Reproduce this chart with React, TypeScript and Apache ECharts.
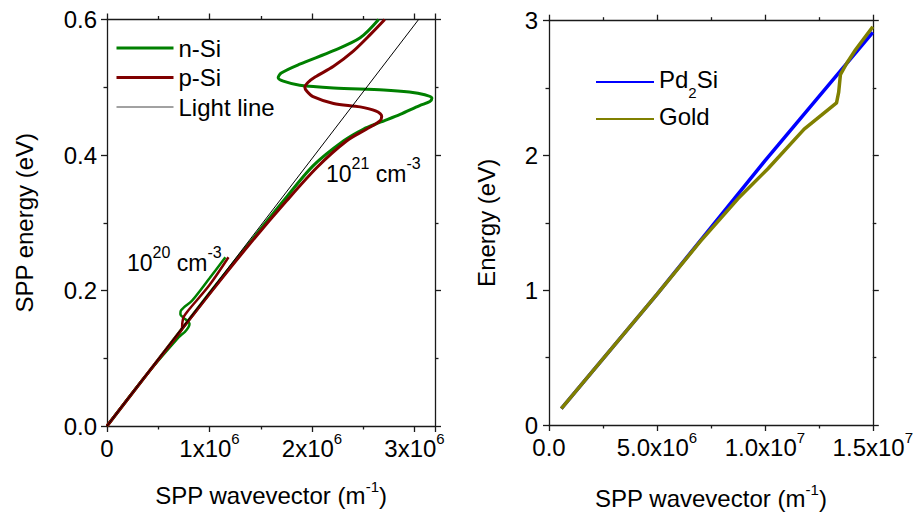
import React, { useEffect, useRef } from 'react';
import * as echarts from 'echarts';

const FONT = '"Liberation Sans", Arial, Helvetica, sans-serif';

// ---------- Left panel: SPP dispersion in doped Si ----------
// 10^20 cm^-3
const nSi20K = [0, 0.35e6, 0.70e6, 0.76e6, 0.795e6, 0.805e6, 0.785e6, 0.745e6, 0.716e6, 0.72e6, 0.75e6, 0.83e6, 1.0e6, 1.155e6];
const nSi20E = [0, 0.069, 0.131, 0.139, 0.146, 0.151, 0.155, 0.160, 0.165, 0.170, 0.175, 0.185, 0.218, 0.249];
const pSi20K = [0, 0.35e6, 0.70e6, 0.73e6, 0.735e6, 0.745e6, 0.77e6, 0.80e6, 1.0e6, 1.185e6];
const pSi20E = [0, 0.069, 0.136, 0.143, 0.152, 0.160, 0.166, 0.172, 0.208, 0.249];
// 10^21 cm^-3
const nSi21K = [0, 0.5e6, 1.0e6, 1.4e6, 1.72e6, 2.01e6, 2.31e6, 2.50e6, 2.66e6, 2.86e6, 3.05e6, 3.15e6, 3.17e6, 3.10e6, 2.95e6, 2.70e6, 2.21e6, 1.88e6, 1.72e6, 1.67e6, 1.70e6, 1.88e6, 2.21e6, 2.47e6, 2.65e6];
const nSi21E = [0, 0.098, 0.196, 0.272, 0.332, 0.384, 0.421, 0.438, 0.448, 0.460, 0.473, 0.479, 0.484, 0.489, 0.493, 0.496, 0.499, 0.503, 0.509, 0.514, 0.521, 0.534, 0.554, 0.573, 0.600];
const pSi21K = [0, 0.5e6, 1.0e6, 1.4e6, 1.75e6, 2.05e6, 2.34e6, 2.53e6, 2.66e6, 2.68e6, 2.62e6, 2.47e6, 2.21e6, 2.01e6, 1.95e6, 1.93e6, 1.96e6, 2.03e6, 2.21e6, 2.40e6, 2.57e6, 2.71e6];
const pSi21E = [0, 0.098, 0.195, 0.270, 0.332, 0.382, 0.421, 0.438, 0.450, 0.457, 0.465, 0.471, 0.476, 0.486, 0.494, 0.500, 0.507, 0.515, 0.531, 0.553, 0.578, 0.600];
// light line
const lightK = [0, 3.04e6];
const lightE = [0, 0.6];

// ---------- Right panel ----------
const pd2SiK = [0.57e6, 5.0e6, 1.0e7, 1.5e7];
const pd2SiE = [0.122, 0.97, 1.96, 2.914];
const goldK = [0.57e6, 5.0e6, 7.0e6, 8.76e6, 10.13e6, 11.82e6, 13.32e6, 13.42e6, 13.5e6, 13.8e6, 14.2e6, 15.0e6];
const goldE = [0.122, 0.97, 1.36, 1.68, 1.90, 2.195, 2.39, 2.47, 2.60, 2.686, 2.784, 2.955];

// ticks
const leftXTicks = [0, 1e6, 2e6, 3e6];
const rightXTicks = [0, 5e6, 1e7, 1.5e7];

const zip = (k: number[], e: number[]) => k.map((v, i) => [v, e[i]]);

const AX = '#1a1a1a';
const FS = 24;
const richTick = {
  m: { fontSize: FS, lineHeight: 34, fontFamily: FONT, color: '#000' },
  s: { fontSize: 15, lineHeight: 14, verticalAlign: 'top', fontFamily: FONT, color: '#000' },
};
const richTitle = {
  m: { fontSize: FS, lineHeight: 32, fontFamily: FONT, color: '#000' },
  s: { fontSize: 15, lineHeight: 14, verticalAlign: 'top', fontFamily: FONT, color: '#000' },
};
const richNote = {
  m: { fontSize: 23, lineHeight: 36, fontFamily: FONT, color: '#000' },
  s: { fontSize: 16, lineHeight: 14, verticalAlign: 'top', fontFamily: FONT, color: '#000' },
};

function frameAxis(extra: any) {
  return {
    type: 'value',
    splitLine: { show: false },
    axisLine: { show: true, onZero: false, lineStyle: { color: AX, width: 1.3 } },
    axisTick: { show: true, inside: false, length: 6, lineStyle: { color: AX, width: 1.3 } },
    minorTick: { show: true, splitNumber: 2, length: 3.5, lineStyle: { color: AX, width: 1.3 } },
    ...extra,
  };
}

function sciLabel(v: number, digits: number) {
  if (v === 0) return digits === 0 ? '{m|0}' : '{m|0.0}';
  const ex = Math.floor(Math.log10(v) + 1e-9);
  const mant = v / Math.pow(10, ex);
  return `{m|${mant.toFixed(digits)}x10}{s|${ex}}`;
}

export default function App() {
  const ref = useRef<HTMLDivElement>(null);
  useEffect(() => {
    const chart = echarts.init(ref.current!, null, { renderer: 'svg' });
    const option: any = {
      animation: false,
      backgroundColor: '#fff',
      textStyle: { fontFamily: FONT },
      grid: [
        { left: 107, top: 19.5, width: 328, height: 406.5 },
        { left: 549, top: 20.7, width: 327, height: 407.6 },
      ],
      xAxis: [
        frameAxis({
          gridIndex: 0, position: 'bottom', min: 0, max: 3.2e6, interval: 1e6,
          axisLabel: {
            margin: 5,
            formatter: (v: number) => (leftXTicks.some((t) => Math.abs(t - v) < 1) ? sciLabel(v, 0) : ''),
            rich: richTick,
          },
          name: '{m|SPP wavevector (m}{s|-1}{m|)}',
          nameLocation: 'middle', nameGap: 53,
          nameTextStyle: { rich: richTitle },
        }),
        frameAxis({ gridIndex: 0, position: 'top', min: 0, max: 3.2e6, interval: 1e6, axisLabel: { show: false } }),
        frameAxis({
          gridIndex: 1, position: 'bottom', min: 0, max: 1.5e7, interval: 5e6,
          axisLabel: {
            margin: 5,
            formatter: (v: number) => (rightXTicks.some((t) => Math.abs(t - v) < 1) ? sciLabel(v, 1) : ''),
            rich: richTick,
          },
          name: '{m|SPP wavevector (m}{s|-1}{m|)}',
          nameLocation: 'middle', nameGap: 57,
          nameTextStyle: { rich: richTitle },
        }),
        frameAxis({ gridIndex: 1, position: 'top', min: 0, max: 1.5e7, interval: 5e6, axisLabel: { show: false } }),
      ],
      yAxis: [
        frameAxis({
          gridIndex: 0, position: 'left', min: 0, max: 0.6, interval: 0.2,
          axisLabel: { margin: 10, fontSize: FS, color: '#000', fontFamily: FONT, formatter: (v: number) => v.toFixed(1) },
          name: 'SPP energy (eV)', nameLocation: 'middle', nameGap: 70,
          nameTextStyle: { fontSize: FS, color: '#000', fontFamily: FONT, lineHeight: 26 },
        }),
        frameAxis({ gridIndex: 0, position: 'right', min: 0, max: 0.6, interval: 0.2, axisLabel: { show: false } }),
        frameAxis({
          gridIndex: 1, position: 'left', min: 0, max: 3, interval: 1,
          axisLabel: { margin: 11, fontSize: FS, color: '#000', fontFamily: FONT, formatter: (v: number) => String(v) },
          name: 'Energy (eV)', nameLocation: 'middle', nameGap: 50,
          nameTextStyle: { fontSize: FS, color: '#000', fontFamily: FONT, lineHeight: 26 },
        }),
        frameAxis({ gridIndex: 1, position: 'right', min: 0, max: 3, interval: 1, axisLabel: { show: false } }),
      ],
      legend: [
        {
          orient: 'vertical', left: 115, top: 35, padding: 0, itemGap: 3.5,
          itemWidth: 57, itemHeight: 14,
          itemStyle: { opacity: 0 },
          data: [
            { name: 'n-Si', lineStyle: { width: 3 } },
            { name: 'p-Si', lineStyle: { width: 3 } },
            { name: 'Light line', lineStyle: { width: 1, color: '#444' } },
          ],
          textStyle: { fontSize: FS, fontFamily: FONT, color: '#000', lineHeight: 26 },
        },
        {
          orient: 'vertical', left: 595, top: 67, padding: 0, itemGap: 4,
          itemWidth: 58, itemHeight: 14,
          itemStyle: { opacity: 0 },
          data: ['Pd2Si', 'Gold'],
          formatter: (n: string) => (n === 'Pd2Si' ? '{m|Pd}{b|2}{m|Si}' : '{m|Gold}'),
          textStyle: {
            rich: {
              m: { fontSize: FS, lineHeight: 30, verticalAlign: 'top', fontFamily: FONT, color: '#000' },
              b: { fontSize: 15, lineHeight: 14, verticalAlign: 'top', padding: [18, 0, 0, 0], fontFamily: FONT, color: '#000' },
            },
          },
        },
      ],
      graphic: [
        {
          type: 'text', x: 127, y: 262.5,
          style: { text: '{m|10}{s|20}{m| cm}{s|-3}', rich: richNote, verticalAlign: 'middle', align: 'left' },
        },
        {
          type: 'text', x: 326, y: 173.5,
          style: { text: '{m|10}{s|21}{m| cm}{s|-3}', rich: richNote, verticalAlign: 'middle', align: 'left' },
        },
      ],
      series: [
        { name: 'n-Si', type: 'line', xAxisIndex: 0, yAxisIndex: 0, data: zip(nSi20K, nSi20E), symbol: 'none', smooth: 0.3, lineStyle: { color: '#008000', width: 2.5 }, itemStyle: { color: '#008000' } },
        { name: 'n-Si', type: 'line', xAxisIndex: 0, yAxisIndex: 0, data: zip(nSi21K, nSi21E), symbol: 'none', smooth: 0.3, lineStyle: { color: '#008000', width: 3 }, itemStyle: { color: '#008000' } },
        { name: 'p-Si', type: 'line', xAxisIndex: 0, yAxisIndex: 0, data: zip(pSi20K, pSi20E), symbol: 'none', smooth: 0.3, lineStyle: { color: '#800000', width: 2.5 }, itemStyle: { color: '#800000' } },
        { name: 'p-Si', type: 'line', xAxisIndex: 0, yAxisIndex: 0, data: zip(pSi21K, pSi21E), symbol: 'none', smooth: 0.3, lineStyle: { color: '#800000', width: 3 }, itemStyle: { color: '#800000' } },
        { name: 'Light line', type: 'line', xAxisIndex: 0, yAxisIndex: 0, data: zip(lightK, lightE), symbol: 'none', lineStyle: { color: '#000', width: 1 }, itemStyle: { color: '#000' } },
        { name: 'Pd2Si', type: 'line', xAxisIndex: 2, yAxisIndex: 2, data: zip(pd2SiK, pd2SiE), symbol: 'none', lineStyle: { color: '#0000ff', width: 3.5 }, itemStyle: { color: '#0000ff' } },
        { name: 'Gold', type: 'line', xAxisIndex: 2, yAxisIndex: 2, data: zip(goldK, goldE), symbol: 'none', lineStyle: { color: '#808000', width: 3.5 }, itemStyle: { color: '#808000' } },
      ],
    };
    chart.setOption(option);
    return () => chart.dispose();
  }, []);
  return (
    <div
      ref={ref}
      style={{ position: 'fixed', left: 0, top: 0, width: 916, height: 515, background: '#fff' }}
    />
  );
}
